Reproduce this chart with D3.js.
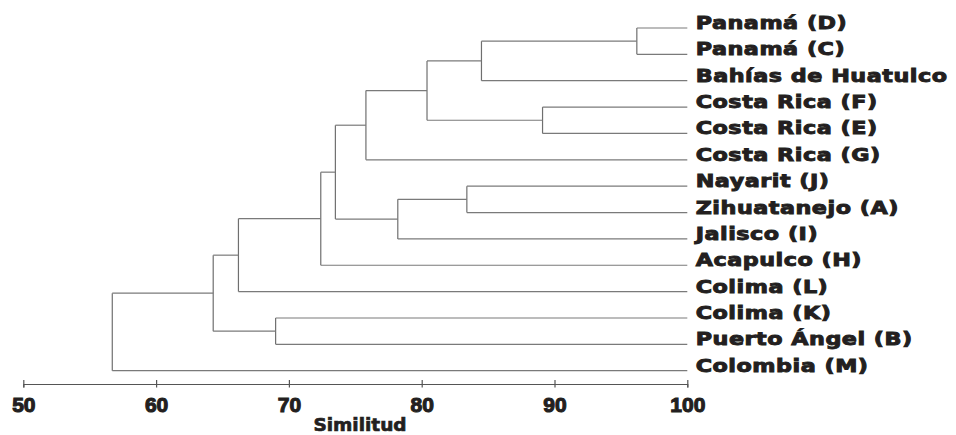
<!DOCTYPE html>
<html>
<head>
<meta charset="utf-8">
<script src="https://cdn.jsdelivr.net/npm/d3@7"></script>
<style>
  body { margin: 0; background: #fff; }
  svg { display: block; }
</style>
</head>
<body>
<div id="chart"></div>
<script>
// hojas del dendrograma, de arriba abajo
const leaves = [
  "Panamá (D)", "Panamá (C)", "Bahías de Huatulco", "Costa Rica (F)",
  "Costa Rica (E)", "Costa Rica (G)", "Nayarit (J)", "Zihuatanejo (A)",
  "Jalisco (I)", "Acapulco (H)", "Colima (L)", "Colima (K)",
  "Puerto Ángel (B)", "Colombia (M)"
];

// uniones: [izquierda, derecha, similitud]; "nK" = unión número K
const merges = [
  ["Panamá (D)", "Panamá (C)", 96.2],
  ["n0", "Bahías de Huatulco", 84.5],
  ["Costa Rica (F)", "Costa Rica (E)", 89.1],
  ["n1", "n2", 80.4],
  ["n3", "Costa Rica (G)", 75.8],
  ["Nayarit (J)", "Zihuatanejo (A)", 83.4],
  ["n5", "Jalisco (I)", 78.2],
  ["n4", "n6", 73.5],
  ["n7", "Acapulco (H)", 72.4],
  ["n8", "Colima (L)", 66.2],
  ["Colima (K)", "Puerto Ángel (B)", 69.0],
  ["n9", "n10", 64.3],
  ["n11", "Colombia (M)", 56.7]
];

const xTicks = [50, 60, 70, 80, 90, 100];

const width = 956, height = 435;

// armar el árbol
const nodes = {};
leaves.forEach(l => nodes[l] = { name: l, sim: 100 });
merges.forEach((m, i) => {
  nodes["n" + i] = { name: "n" + i, sim: m[2], children: [nodes[m[0]], nodes[m[1]]] };
});
const root = d3.hierarchy(nodes["n" + (merges.length - 1)]);

const x = d3.scaleLinear().domain([50, 100]).range([23.3, 687.3]);
const y = d3.scalePoint().domain(leaves).range([28, 370.7]);

// posición vertical: hojas por orden, nodos en la media de sus hijos
root.eachAfter(d => {
  d.py = d.children ? d3.mean(d.children, c => c.py) : y(d.data.name);
  d.px = x(d.data.sim);
});

const svg = d3.select("#chart").append("svg")
  .attr("width", width)
  .attr("height", height);

// ramas
const inner = root.descendants().filter(d => d.children);
svg.selectAll(".vline")
  .data(inner)
  .enter().append("line")
  .attr("x1", d => d.px).attr("x2", d => d.px)
  .attr("y1", d => d3.min(d.children, c => c.py))
  .attr("y2", d => d3.max(d.children, c => c.py))
  .attr("stroke", "#6f6f6f")
  .attr("stroke-width", 1.2);

svg.selectAll(".hline")
  .data(root.descendants().filter(d => d.parent))
  .enter().append("line")
  .attr("x1", d => d.parent.px).attr("x2", d => d.px)
  .attr("y1", d => d.py).attr("y2", d => d.py)
  .attr("stroke", "#7a7a7a")
  .attr("stroke-width", 1.2);

// etiquetas
svg.selectAll(".label")
  .data(root.leaves())
  .enter().append("text")
  .attr("transform", d => `translate(695.7,${d.py + 1}) scale(1.31,1)`)
  .attr("font-family", "DejaVu Sans")
  .attr("font-weight", "bold")
  .attr("font-size", 17)
  .attr("letter-spacing", 0.4)
  .attr("fill", "#231f20")
  .attr("stroke", "#231f20")
  .attr("stroke-width", 0.9)
  .text(d => d.data.name);

// eje
const axis = svg.append("g")
  .attr("transform", "translate(0,384)")
  .call(d3.axisBottom(x).tickValues(xTicks).tickSizeOuter(0).tickSize(3.5).tickPadding(0));

axis.select(".domain").attr("stroke", "#555").attr("stroke-width", 1.2);
axis.selectAll(".tick line").attr("y1", -4).attr("stroke", "#555").attr("stroke-width", 1.2);
axis.selectAll(".tick text")
  .attr("y", 27.7)
  .attr("dy", null)
  .attr("font-family", "Liberation Sans")
  .attr("font-weight", "bold")
  .attr("font-size", 21)
  .attr("fill", "#231f20")
  .attr("stroke", "#231f20")
  .attr("stroke-width", 1.1);

svg.append("text")
  .attr("x", 360)
  .attr("y", 431)
  .attr("text-anchor", "middle")
  .attr("font-family", "DejaVu Sans")
  .attr("font-weight", "bold")
  .attr("font-size", 18.5)
  .attr("fill", "#231f20")
  .attr("stroke", "#231f20")
  .attr("stroke-width", 0.7)
  .text("Similitud");
</script>
</body>
</html>
